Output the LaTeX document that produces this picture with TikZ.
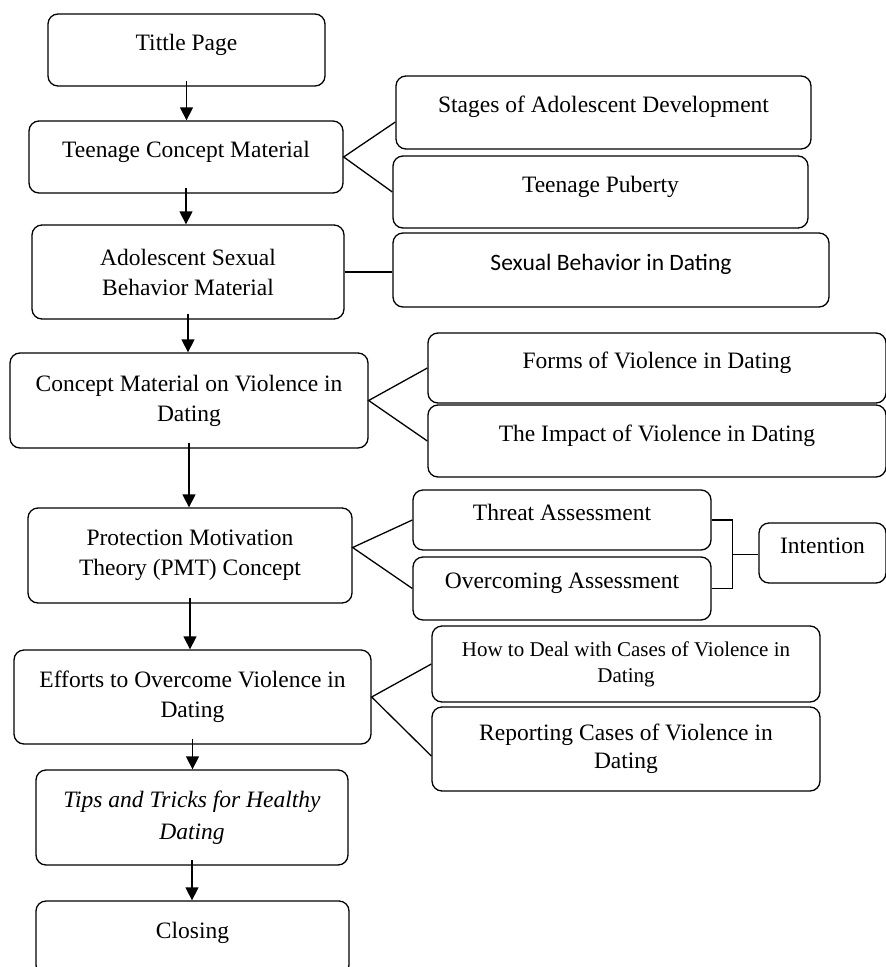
\documentclass[tikz,border=0pt]{standalone}
\usepackage{fontspec}
\setmainfont{Liberation Serif}
\newfontfamily\carlito{Carlito}
\usetikzlibrary{arrows.meta, calc}

\begin{document}
\begin{tikzpicture}[x=1pt, y=-1pt,
    box/.style={draw, line width=1.3pt, rounded corners=10pt, align=center,
      inner sep=2pt, font=\fontsize{23.5}{30}\selectfont},
    one/.style={text height=16pt, text depth=16pt},
    arrow/.style={line width=1.3pt, -{Triangle[width=13pt,length=13pt]}, shorten <=-6pt},
    link/.style={line width=1.3pt}]
  \useasboundingbox (0,0) rectangle (886,967);
  \clip (0,0) rectangle (886,967);
  % Main column
  \node[box, one, minimum width=277pt, minimum height=72pt] (title) at (186.5,50) {Tittle Page};
  \node[box, one, minimum width=314pt, minimum height=72pt] (teen) at (186,157) {Teenage Concept Material};
  \node[box, minimum width=312pt, minimum height=94pt] (sexmat) at (188,272) {Adolescent Sexual\\Behavior Material};
  \node[box, minimum width=358pt, minimum height=95pt] (viol) at (189,400.5) {Concept Material on Violence in\\Dating};
  \node[box, minimum width=324pt, minimum height=95pt] (pmt) at (190,555.5) {Protection Motivation\\Theory (PMT) Concept};
  \node[box, minimum width=357pt, minimum height=94pt] (effort) at (192.5,697) {Efforts to Overcome Violence in\\Dating};
  \node[box, minimum width=312pt, minimum height=95pt, font=\fontsize{23.5}{32}\selectfont\itshape] (tips) at (192,817.5) {Tips and Tricks for Healthy\\Dating};
  \node[box, one, minimum width=313pt, minimum height=74pt] (closing) at (192.5,938) {Closing};
  % Sub topics
  \node[box, one, minimum width=415pt, minimum height=73pt] (stages) at (603.5,112.5) {Stages of Adolescent Development};
  \node[box, one, minimum width=415pt, minimum height=72pt] (puberty) at (600.5,192) {Teenage Puberty};
  \node[box, one, minimum width=436pt, minimum height=74pt, font=\fontsize{23.5}{30}\carlito] (sexdate) at (611,270) {Sexual Behavior in Dating};
  \node[box, one, minimum width=458pt, minimum height=70pt] (forms) at (657,368) {Forms of Violence in Dating};
  \node[box, one, minimum width=458pt, minimum height=72pt] (impact) at (657,441) {The Impact of Violence in Dating};
  \node[box, one, minimum width=298pt, minimum height=60pt] (threat) at (562,520) {Threat Assessment};
  \node[box, one, minimum width=298pt, minimum height=63pt] (overcome) at (562,588.5) {Overcoming Assessment};
  \node[box, one, minimum width=127pt, minimum height=60pt] (intent) at (822.5,553) {Intention};
  \node[box, minimum width=388pt, minimum height=76pt, font=\fontsize{21}{26}\selectfont] (howto) at (626,664) {How to Deal with Cases of Violence in\\Dating};
  \node[box, minimum width=388pt, minimum height=84pt, font=\fontsize{23.5}{28}\selectfont] (report) at (626,749) {Reporting Cases of Violence in\\Dating};
  % Flow arrows
  \foreach \a/\b in {title/teen, teen/sexmat, sexmat/viol, viol/pmt, pmt/effort, effort/tips, tips/closing}
    \draw[arrow] (\a.south) -- (\a.south |- \b.north);
  % Branch lines
  \draw[link] ([yshift=-9.5pt]stages.west) -- (teen.east) -- (puberty.west);
  \draw[link] (sexmat.east) -- (sexmat.east -| sexdate.west);
  \draw[link] (forms.west) -- (viol.east) -- (impact.west);
  \draw[link] (threat.west) -- ([yshift=8pt]pmt.east) -- (overcome.west);
  \draw[link] (howto.west) -- (effort.east) -- ([yshift=-7pt]report.west);
  % Bracket to intention
  \draw[link] (threat.east) -- ++(21,0) coordinate (bartop) |- (overcome.east);
  \coordinate (barmid) at ($(threat.east)!0.5!(overcome.east) + (21,0)$);
  \draw[link] (barmid) -- (barmid -| intent.west);
\end{tikzpicture}
\end{document}
